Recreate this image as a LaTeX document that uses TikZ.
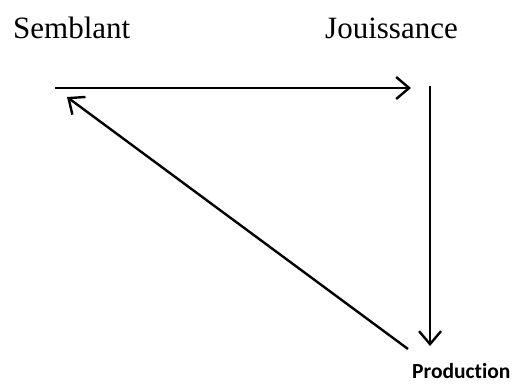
\documentclass[tikz,border=0pt]{standalone}
\usepackage{fontspec}
\setmainfont{Liberation Serif}
\newfontfamily\carlito[Ligatures=NoCommon]{Carlito}
\usetikzlibrary{arrows.meta}
\tikzset{
  lbl/.style={inner sep=0pt, anchor=base west, font=\fontsize{31}{36}\selectfont},
  prod/.style={inner sep=0pt, anchor=base west, font=\carlito\bfseries\fontsize{21.5}{24}\selectfont},
  arr/.style={line width=2.4pt, -{Straight Barb[length=13pt,width=22pt,line width=2.4pt]}}
}
\begin{document}
\begin{tikzpicture}[x=1pt,y=-1pt]
\useasboundingbox (0,0) rectangle (513,383);
\node[lbl] (sem) at (13,38) {Semblant};
\node[lbl] (jou) at (325,38) {Jouissance};
\node[prod] (pro) at (412,378) {Production};
\coordinate (h1) at (55,88);
\coordinate (h2) at (411,88);
\coordinate (v1) at (430,86);
\coordinate (v2) at (430,346);
\coordinate (d1) at (408,349);
\coordinate (d2) at (67,97);
\draw[arr] (h1) -- (h2);
\draw[arr] (v1) -- (v2);
\draw[arr] (d1) -- (d2);
\end{tikzpicture}
\end{document}
